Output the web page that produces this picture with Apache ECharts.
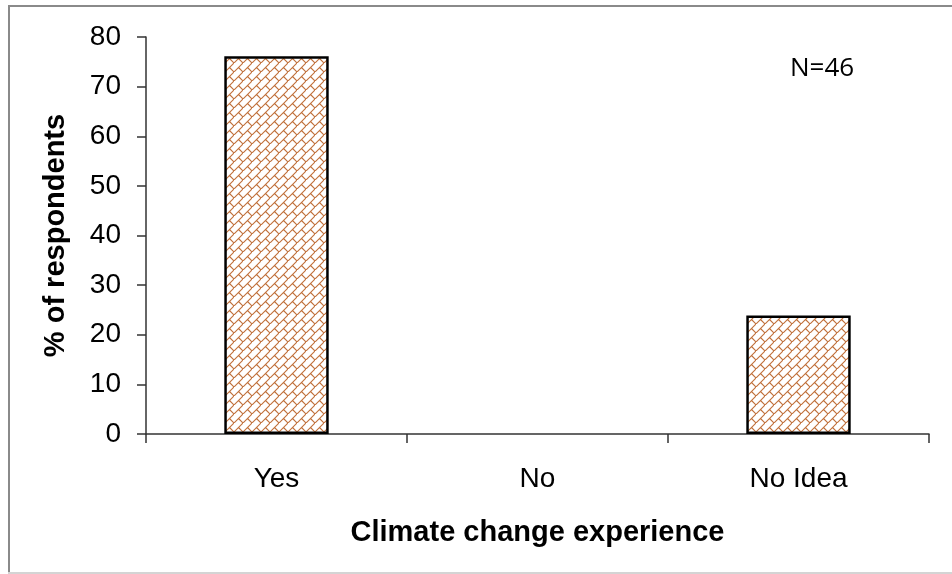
<!DOCTYPE html>
<html>
<head>
<meta charset="utf-8">
<script src="https://cdn.jsdelivr.net/npm/echarts@6/dist/echarts.min.js"></script>
<style>
html,body{margin:0;padding:0;background:#fff;}
#chart{width:952px;height:574px;}
</style>
</head>
<body>
<div id="chart"></div>
<script>
const categories = ['Yes', 'No', 'No Idea'];
const percentValues = [76.1, 0, 23.9];
const yTicks = [0, 10, 20, 30, 40, 50, 60, 70, 80];
const sampleNote = 'N=46';

function makeBrickPattern() {
  const s = 9;
  const c = document.createElement('canvas');
  c.width = s; c.height = s;
  const ctx = c.getContext('2d');
  ctx.fillStyle = '#ffffff';
  ctx.fillRect(0, 0, s, s);
  ctx.strokeStyle = '#c0703a';
  ctx.lineWidth = 1.1;
  ctx.beginPath();
  ctx.moveTo(-1, s + 1); ctx.lineTo(s + 1, -1);
  ctx.moveTo(s / 2, s / 2); ctx.lineTo(s + 1, s + 1);
  ctx.stroke();
  return c;
}

const chart = echarts.init(document.getElementById('chart'), null, {renderer: 'canvas'});
const font = 'Liberation Sans, Arial, sans-serif';
chart.setOption({
  backgroundColor: '#ffffff',
  animation: false,
  grid: {left: 146, right: 23, top: 37, bottom: 140, containLabel: false},
  xAxis: {
    type: 'category',
    data: categories,
    boundaryGap: true,
    axisLine: {lineStyle: {color: '#333', width: 1.5}},
    axisTick: {show: true, inside: false, length: 9, alignWithLabel: false, lineStyle: {color: '#333', width: 1.5}},
    axisLabel: {color: '#000', fontSize: 28, fontFamily: font, margin: 31},
    name: 'Climate change experience',
    nameLocation: 'middle',
    nameGap: 84,
    nameTextStyle: {color: '#000', fontSize: 29, fontWeight: 'bold', fontFamily: font}
  },
  yAxis: {
    type: 'value',
    min: yTicks[0],
    max: yTicks[yTicks.length - 1],
    interval: yTicks[1] - yTicks[0],
    splitLine: {show: false},
    axisLine: {show: true, lineStyle: {color: '#333', width: 1.5}},
    axisTick: {show: true, inside: false, length: 9, lineStyle: {color: '#333', width: 1.5}},
    axisLabel: {color: '#000', fontSize: 28, fontFamily: font, margin: 25},
    name: '% of respondents',
    nameLocation: 'middle',
    nameGap: 76,
    nameTextStyle: {color: '#000', fontSize: 29, fontWeight: 'bold', fontFamily: font}
  },
  series: [{
    type: 'bar',
    data: percentValues.map(v => ({value: v, itemStyle: v === 0 ? {borderWidth: 0} : {}})),
    barWidth: '40%',
    itemStyle: {
      color: {image: makeBrickPattern(), repeat: 'repeat'},
      borderColor: '#000',
      borderWidth: 2.5
    }
  }],
  graphic: [
    {type: 'line', shape: {x1: 8, y1: 6, x2: 952, y2: 6}, style: {stroke: '#8a8a8a', lineWidth: 2}},
    {type: 'line', shape: {x1: 9, y1: 5, x2: 9, y2: 573}, style: {stroke: '#8a8a8a', lineWidth: 2}},
    {type: 'line', shape: {x1: 8, y1: 573, x2: 952, y2: 573}, style: {stroke: '#d4d4d4', lineWidth: 2}},
    {type: 'text', left: 790, top: 56, style: {text: sampleNote, fill: '#000', fontSize: 26, fontFamily: 'Open Sans, Noto Sans, sans-serif'}}
  ]
});
</script>
</body>
</html>
